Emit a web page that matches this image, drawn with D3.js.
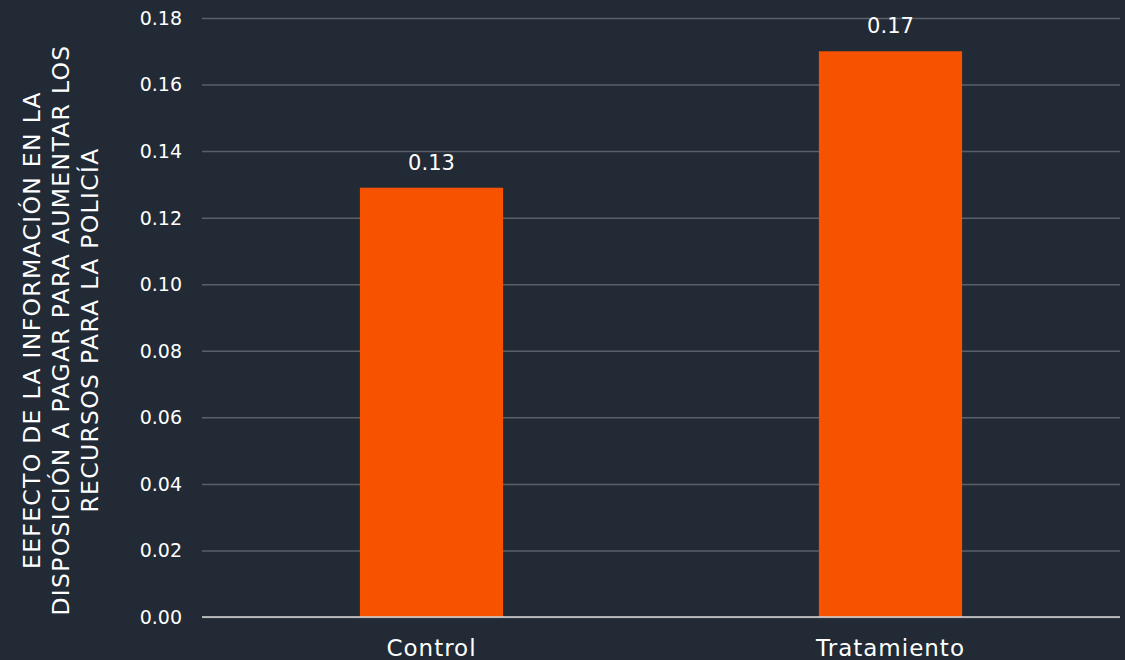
<!DOCTYPE html>
<meta charset="utf-8">
<style>
body {margin: 0; background: #222a35;}
text {font-family: "DejaVu Sans", "Noto Sans", sans-serif; fill: #ffffff;}
.grid line {stroke: #5b6068; stroke-width: 1.5px;}
.grid .domain {display: none;}
.bar {fill: #f75200;}
</style>
<body>
<script src="https://d3js.org/d3.v7.min.js"></script>
<script>
var categories = ["Control", "Tratamiento"]
var values = [0.129, 0.170]
var valueLabels = ["0.13", "0.17"]
var yTicks = [0, 0.02, 0.04, 0.06, 0.08, 0.10, 0.12, 0.14, 0.16, 0.18]
var titleLines = ["EEFECTO DE LA INFORMACIÓN EN LA", "DISPOSICIÓN A PAGAR PARA AUMENTAR LOS", "RECURSOS PARA LA POLICÍA"]

var width = 1125, height = 660
var margin = {top: 18, right: 5, bottom: 43, left: 202}
var svg = d3.select("body").append("svg")
  .attr("width", width).attr("height", height)
svg.append("rect").attr("width", width).attr("height", height).attr("fill", "#222a35")

var x = d3.scaleBand().domain(categories)
  .range([margin.left, width - margin.right]).paddingInner(0.688).paddingOuter(0.344)
var y = d3.scaleLinear().domain([0, 0.18]).range([height - margin.bottom, margin.top])

// gridlines
svg.append("g").attr("class", "grid")
  .attr("transform", "translate(" + margin.left + ",0)")
  .call(d3.axisLeft(y).tickValues(yTicks).tickSize(-(width - margin.right - margin.left)).tickFormat(""))

svg.selectAll(".bar").data(values).enter().append("rect")
  .attr("class", "bar")
  .attr("x", function(d, i) { return x(categories[i]) })
  .attr("width", x.bandwidth())
  .attr("y", function(d) { return y(d) })
  .attr("height", function(d) { return y(0) - y(d) })

// baseline above bars
svg.append("line")
  .attr("x1", margin.left).attr("x2", width - margin.right)
  .attr("y1", y(0)).attr("y2", y(0))
  .attr("stroke", "#d9d9d9").attr("stroke-width", 1.5)

svg.selectAll(".vlabel").data(values).enter().append("text")
  .attr("class", "vlabel")
  .attr("x", function(d, i) { return x(categories[i]) + x.bandwidth() / 2 })
  .attr("y", function(d) { return y(d) - 18 })
  .attr("text-anchor", "middle").attr("font-size", 21)
  .text(function(d, i) { return valueLabels[i] })

// y tick labels
svg.selectAll(".ytick").data(yTicks).enter().append("text")
  .attr("x", 182).attr("y", function(d) { return y(d) })
  .attr("dy", "0.36em").attr("text-anchor", "end").attr("font-size", 19)
  .text(function(d) { return d3.format(".2f")(d) })

// x labels
svg.selectAll(".xlab").data(categories).enter().append("text")
  .attr("x", function(d) { return x(d) + x.bandwidth() / 2 })
  .attr("y", 656).attr("text-anchor", "middle").attr("font-size", 23)
  .attr("letter-spacing", 1)
  .text(function(d) { return d })

// y title
var title = svg.append("text")
  .attr("transform", "translate(0,330) rotate(-90)")
  .attr("text-anchor", "middle").attr("font-size", 23.5)
  .attr("letter-spacing", 1.3)
title.selectAll("tspan").data(titleLines).enter().append("tspan")
  .attr("x", 0).attr("y", function(d, i) { return 40 + i * 29 })
  .text(function(d) { return d })
</script>
